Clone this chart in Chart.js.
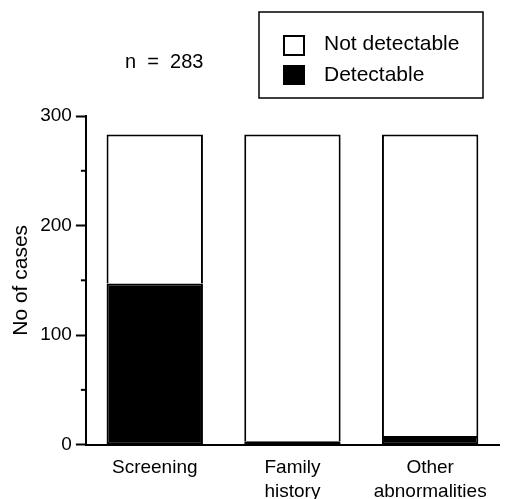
<!DOCTYPE html>
<html>
<head>
<meta charset="utf-8">
<script src="https://cdn.jsdelivr.net/npm/chart.js@4/dist/chart.umd.min.js"></script>
<style>
  html, body { margin: 0; padding: 0; background: #fff; }
  #wrap { width: 507px; height: 499px; }
</style>
</head>
<body>
<div id="wrap"><canvas id="chart" width="507" height="499"></canvas></div>
<script>
const categories = [['Screening'], ['Family', 'history'], ['Other', 'abnormalities']];
const detectable = [147, 3, 8];
const notDetectable = [136, 280, 275];
const yTicks = [0, 50, 100, 150, 200, 250, 300];
const seriesNames = ['Not detectable', 'Detectable'];

const FONT = '"Liberation Sans", Arial, sans-serif';

// minor ticks, legend box and n label
const extras = {
    id: 'extras',
    afterDraw(chart) {
        const ctx = chart.ctx;
        const y = chart.scales.y;
        ctx.save();
        ctx.strokeStyle = '#000';
        ctx.lineWidth = 2;
        yTicks.forEach(v => {
            if (v % 100 === 0) return;
            const py = y.getPixelForValue(v);
            ctx.beginPath();
            ctx.moveTo(y.right - 5, py);
            ctx.lineTo(y.right, py);
            ctx.stroke();
        });

        // legend
        ctx.lineWidth = 1.5;
        ctx.strokeRect(259, 12, 224, 86);
        ctx.fillStyle = '#fff';
        ctx.lineWidth = 2;
        ctx.fillRect(284, 36, 20, 19);
        ctx.strokeRect(284, 36, 20, 19);
        ctx.fillStyle = '#000';
        ctx.fillRect(283, 65, 22, 20);
        ctx.font = '21px ' + FONT;
        ctx.textBaseline = 'middle';
        ctx.fillText(seriesNames[0], 324, 44);
        ctx.fillText(seriesNames[1], 324, 75);

        const n = detectable[0] + notDetectable[0];
        ctx.font = '20px ' + FONT;
        ctx.fillText('n  =  ' + n, 125, 62);
        ctx.restore();
    }
};

new Chart(document.getElementById('chart'), {
    type: 'bar',
    data: {
        labels: categories,
        datasets: [
            {
                label: seriesNames[1],
                data: detectable,
                backgroundColor: '#000',
                borderColor: '#000',
                borderWidth: 2,
                borderSkipped: false,
                inflateAmount: 0
            },
            {
                label: seriesNames[0],
                data: notDetectable,
                backgroundColor: '#fff',
                borderColor: '#000',
                borderWidth: 2,
                borderSkipped: 'bottom',
                inflateAmount: 0
            }
        ]
    },
    options: {
        responsive: false,
        animation: false,
        layout: { padding: { top: 116, right: 8, left: 3, bottom: -16 } },
        plugins: { legend: { display: false }, tooltip: { enabled: false } },
        datasets: { bar: { categoryPercentage: 1, barPercentage: 0.7 } },
        scales: {
            x: {
                stacked: true,
                grid: { display: false, drawTicks: false },
                border: { color: '#000', width: 2 },
                ticks: { color: '#000', font: { family: FONT, size: 19, lineHeight: 1.22 }, padding: 12, maxRotation: 0 }
            },
            y: {
                stacked: true,
                min: 0,
                max: 300,
                afterBuildTicks(scale) { scale.ticks = yTicks.map(v => ({ value: v })); },
                grid: {
                    drawOnChartArea: false,
                    tickLength: 10,
                    tickWidth: 2,
                    tickColor: c => (c.tick && c.tick.value % 100 === 0) ? '#000' : 'rgba(0,0,0,0)'
                },
                border: { color: '#000', width: 2 },
                ticks: {
                    color: '#000',
                    padding: 4,
                    font: { family: FONT, size: 19 },
                    callback: v => (v % 100 === 0 ? v : '')
                },
                title: {
                    display: true,
                    text: 'No of cases',
                    color: '#000',
                    font: { family: FONT, size: 21 },
                    padding: { top: 6, bottom: 2 }
                }
            }
        }
    },
    plugins: [extras]
});
</script>
</body>
</html>
